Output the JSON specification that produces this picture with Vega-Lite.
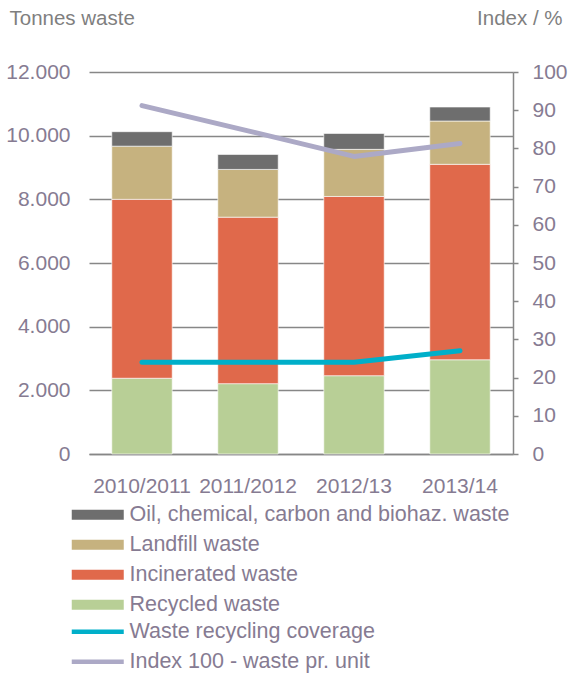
{
  "$schema": "https://vega.github.io/schema/vega-lite/v6.json",
  "width": 424,
  "height": 382,
  "autosize": {"type": "none"},
  "padding": {"left": 89, "top": 72, "right": 57, "bottom": 221},
  "background": "white",
  "config": {
    "view": {"stroke": null},
    "font": "Arial",
    "axis": {"labelFont": "Arial", "titleFont": "Arial", "labelColor": "#867b92", "labelFontSize": 21, "titleFontSize": 20.5, "titleFontWeight": "normal", "titleColor": "#7f7f7f"},
    "legend": {"labelFont": "Arial", "labelFontSize": 21.5, "labelColor": "#867b92", "labelLimit": 600, "padding": 0}
  },
  "datasets": {
    "bars": [
      {"year": "2010/2011", "type": "Recycled waste", "tonnes": 2380},
      {"year": "2010/2011", "type": "Incinerated waste", "tonnes": 5620},
      {"year": "2010/2011", "type": "Landfill waste", "tonnes": 1670},
      {"year": "2010/2011", "type": "Oil, chemical, carbon and biohaz. waste", "tonnes": 455},
      {"year": "2011/2012", "type": "Recycled waste", "tonnes": 2210},
      {"year": "2011/2012", "type": "Incinerated waste", "tonnes": 5230},
      {"year": "2011/2012", "type": "Landfill waste", "tonnes": 1500},
      {"year": "2011/2012", "type": "Oil, chemical, carbon and biohaz. waste", "tonnes": 470},
      {"year": "2012/13", "type": "Recycled waste", "tonnes": 2460},
      {"year": "2012/13", "type": "Incinerated waste", "tonnes": 5630},
      {"year": "2012/13", "type": "Landfill waste", "tonnes": 1480},
      {"year": "2012/13", "type": "Oil, chemical, carbon and biohaz. waste", "tonnes": 500},
      {"year": "2013/14", "type": "Recycled waste", "tonnes": 2960},
      {"year": "2013/14", "type": "Incinerated waste", "tonnes": 6140},
      {"year": "2013/14", "type": "Landfill waste", "tonnes": 1360},
      {"year": "2013/14", "type": "Oil, chemical, carbon and biohaz. waste", "tonnes": 440}
    ],
    "lines": [
      {"year": "2010/2011", "series": "Waste recycling coverage", "value": 24},
      {"year": "2011/2012", "series": "Waste recycling coverage", "value": 24},
      {"year": "2012/13", "series": "Waste recycling coverage", "value": 24},
      {"year": "2013/14", "series": "Waste recycling coverage", "value": 27},
      {"year": "2010/2011", "series": "Index 100 - waste pr. unit", "value": 91.2},
      {"year": "2011/2012", "series": "Index 100 - waste pr. unit", "value": 84.6},
      {"year": "2012/13", "series": "Index 100 - waste pr. unit", "value": 77.9},
      {"year": "2013/14", "series": "Index 100 - waste pr. unit", "value": 81.3}
    ]
  },
  "layer": [
    {
      "data": {"name": "bars"},
      "transform": [
        {"calculate": "indexof(['Recycled waste','Incinerated waste','Landfill waste','Oil, chemical, carbon and biohaz. waste'], datum.type)", "as": "ord"}
      ],
      "mark": {"type": "bar", "stroke": "white", "strokeWidth": 1, "strokeOpacity": 0.6},
      "encoding": {
        "x": {
          "field": "year", "type": "nominal", "sort": null,
          "scale": {"paddingInner": 0.43, "paddingOuter": 0.215},
          "axis": {"title": null, "labelAngle": 0, "domain": true, "domainColor": "#878787", "domainWidth": 1.5, "ticks": false, "labelPadding": 21, "grid": false}
        },
        "y": {
          "field": "tonnes", "type": "quantitative", "stack": "zero",
          "scale": {"domain": [0, 12000], "nice": false},
          "axis": {
            "orient": "left", "values": [0, 2000, 4000, 6000, 8000, 10000, 12000],
            "labelExpr": "replace(format(datum.value, ','), ',', '.')",
            "grid": true, "gridColor": "#878787", "gridWidth": 1.5,
            "domain": false, "ticks": false, "tickSize": 0, "labelPadding": 19,
            "title": "Tonnes waste", "titleAngle": 0, "titleX": -80, "titleY": -54, "titleAlign": "left", "titleBaseline": "middle"
          }
        },
        "fill": {
          "field": "type", "type": "nominal",
          "scale": {
            "domain": ["Oil, chemical, carbon and biohaz. waste", "Landfill waste", "Incinerated waste", "Recycled waste"],
            "range": ["#6e6e6e", "#c6b27f", "#e0694b", "#b8cf96"]
          },
          "legend": {"orient": "none", "legendX": -23, "legendY": 432, "direction": "vertical", "title": null, "symbolType": "M-1,-1H9.4V1H-1Z", "symbolSize": 100, "symbolStrokeWidth": 0, "labelOffset": 42, "rowPadding": 7}
        },
        "order": {"field": "ord", "type": "quantitative"}
      }
    },
    {
      "data": {"name": "lines"},
      "mark": {"type": "line", "strokeWidth": 5, "strokeCap": "round", "strokeJoin": "round"},
      "encoding": {
        "x": {"field": "year", "type": "nominal", "sort": null},
        "y": {
          "field": "value", "type": "quantitative",
          "scale": {"domain": [0, 100], "nice": false},
          "axis": {
            "orient": "right", "values": [0, 10, 20, 30, 40, 50, 60, 70, 80, 90, 100],
            "grid": false, "domain": true, "domainColor": "#878787", "domainWidth": 1.5,
            "ticks": true, "tickColor": "#878787", "tickWidth": 1.5, "tickSize": 5, "labelPadding": 14,
            "title": "Index / %", "titleAngle": 0, "titleX": 49, "titleY": -54, "titleAlign": "right", "titleBaseline": "middle"
          }
        },
        "stroke": {
          "field": "series", "type": "nominal",
          "scale": {"domain": ["Waste recycling coverage", "Index 100 - waste pr. unit"], "range": ["#00afc9", "#aca9c6"]},
          "legend": {"orient": "none", "legendX": -23, "legendY": 549, "direction": "vertical", "title": null, "symbolType": "M-1,0H9.4", "symbolSize": 100, "symbolStrokeWidth": 4.5, "labelOffset": 42, "rowPadding": 7}
        }
      }
    }
  ],
  "resolve": {"scale": {"y": "independent", "fill": "independent", "stroke": "independent"}}
}
